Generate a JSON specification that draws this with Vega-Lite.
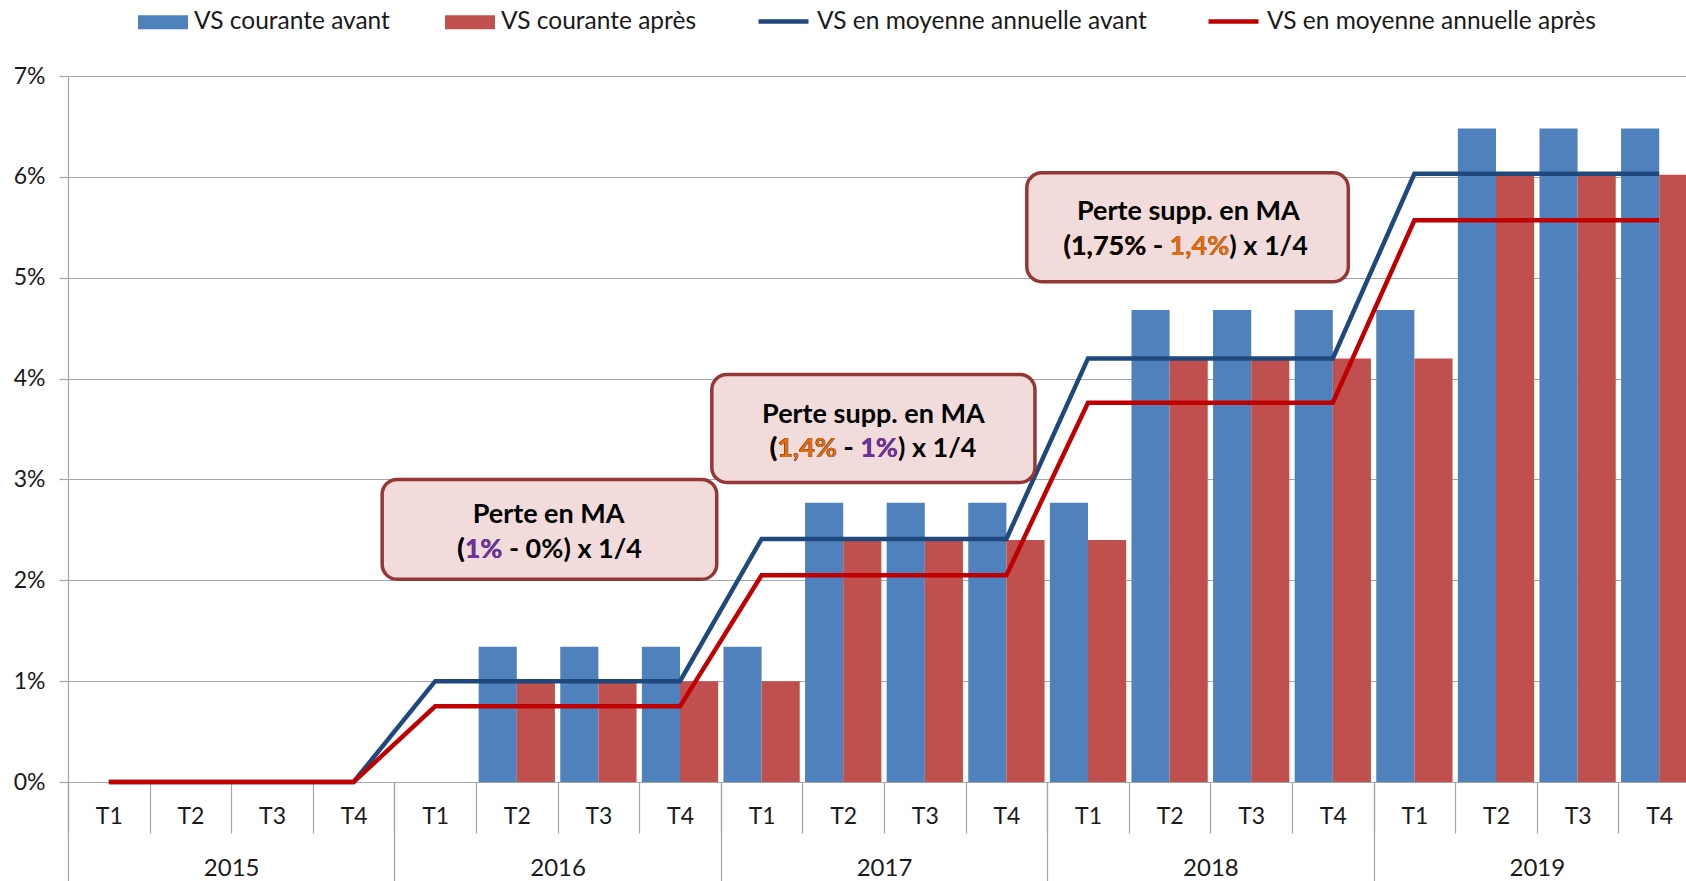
{
  "$schema": "https://vega.github.io/schema/vega-lite/v6.json",
  "width": 1618,
  "height": 706,
  "autosize": {"type": "none"},
  "padding": {"left": 68, "top": 76, "right": 0, "bottom": 99},
  "config": {
    "view": {"stroke": null},
    "font": "Lato",
    "axis": {"labelFont": "Lato", "labelColor": "#1A1A1A", "domainColor": "#A6A6A6", "tickColor": "#A6A6A6", "gridColor": "#A6A6A6", "domainWidth": 1.2, "tickWidth": 1.2, "gridWidth": 1.2},
    "legend": {"labelFont": "Lato", "labelColor": "#1A1A1A", "padding": 0, "labelLimit": 0}
  },
  "datasets": {
    "annees": [{"annee": "2015"}, {"annee": "2016"}, {"annee": "2017"}, {"annee": "2018"}, {"annee": "2019"}],
    "barres": [
      {"q": "2015-T1", "serie": "VS courante avant", "v": 0},
      {"q": "2015-T2", "serie": "VS courante avant", "v": 0},
      {"q": "2015-T3", "serie": "VS courante avant", "v": 0},
      {"q": "2015-T4", "serie": "VS courante avant", "v": 0},
      {"q": "2016-T1", "serie": "VS courante avant", "v": 0},
      {"q": "2016-T2", "serie": "VS courante avant", "v": 0.0134},
      {"q": "2016-T3", "serie": "VS courante avant", "v": 0.0134},
      {"q": "2016-T4", "serie": "VS courante avant", "v": 0.0134},
      {"q": "2017-T1", "serie": "VS courante avant", "v": 0.0134},
      {"q": "2017-T2", "serie": "VS courante avant", "v": 0.0277},
      {"q": "2017-T3", "serie": "VS courante avant", "v": 0.0277},
      {"q": "2017-T4", "serie": "VS courante avant", "v": 0.0277},
      {"q": "2018-T1", "serie": "VS courante avant", "v": 0.0277},
      {"q": "2018-T2", "serie": "VS courante avant", "v": 0.0468},
      {"q": "2018-T3", "serie": "VS courante avant", "v": 0.0468},
      {"q": "2018-T4", "serie": "VS courante avant", "v": 0.0468},
      {"q": "2019-T1", "serie": "VS courante avant", "v": 0.0468},
      {"q": "2019-T2", "serie": "VS courante avant", "v": 0.0648},
      {"q": "2019-T3", "serie": "VS courante avant", "v": 0.0648},
      {"q": "2019-T4", "serie": "VS courante avant", "v": 0.0648},
      {"q": "2015-T1", "serie": "VS courante après", "v": 0},
      {"q": "2015-T2", "serie": "VS courante après", "v": 0},
      {"q": "2015-T3", "serie": "VS courante après", "v": 0},
      {"q": "2015-T4", "serie": "VS courante après", "v": 0},
      {"q": "2016-T1", "serie": "VS courante après", "v": 0},
      {"q": "2016-T2", "serie": "VS courante après", "v": 0.01},
      {"q": "2016-T3", "serie": "VS courante après", "v": 0.01},
      {"q": "2016-T4", "serie": "VS courante après", "v": 0.01},
      {"q": "2017-T1", "serie": "VS courante après", "v": 0.01},
      {"q": "2017-T2", "serie": "VS courante après", "v": 0.024},
      {"q": "2017-T3", "serie": "VS courante après", "v": 0.024},
      {"q": "2017-T4", "serie": "VS courante après", "v": 0.024},
      {"q": "2018-T1", "serie": "VS courante après", "v": 0.024},
      {"q": "2018-T2", "serie": "VS courante après", "v": 0.042},
      {"q": "2018-T3", "serie": "VS courante après", "v": 0.042},
      {"q": "2018-T4", "serie": "VS courante après", "v": 0.042},
      {"q": "2019-T1", "serie": "VS courante après", "v": 0.042},
      {"q": "2019-T2", "serie": "VS courante après", "v": 0.0602},
      {"q": "2019-T3", "serie": "VS courante après", "v": 0.0602},
      {"q": "2019-T4", "serie": "VS courante après", "v": 0.0602}
    ],
    "lignes": [
      {"q": "2015-T1", "serie": "VS en moyenne annuelle avant", "v": 0},
      {"q": "2015-T2", "serie": "VS en moyenne annuelle avant", "v": 0},
      {"q": "2015-T3", "serie": "VS en moyenne annuelle avant", "v": 0},
      {"q": "2015-T4", "serie": "VS en moyenne annuelle avant", "v": 0},
      {"q": "2016-T1", "serie": "VS en moyenne annuelle avant", "v": 0.01},
      {"q": "2016-T2", "serie": "VS en moyenne annuelle avant", "v": 0.01},
      {"q": "2016-T3", "serie": "VS en moyenne annuelle avant", "v": 0.01},
      {"q": "2016-T4", "serie": "VS en moyenne annuelle avant", "v": 0.01},
      {"q": "2017-T1", "serie": "VS en moyenne annuelle avant", "v": 0.0241},
      {"q": "2017-T2", "serie": "VS en moyenne annuelle avant", "v": 0.0241},
      {"q": "2017-T3", "serie": "VS en moyenne annuelle avant", "v": 0.0241},
      {"q": "2017-T4", "serie": "VS en moyenne annuelle avant", "v": 0.0241},
      {"q": "2018-T1", "serie": "VS en moyenne annuelle avant", "v": 0.042},
      {"q": "2018-T2", "serie": "VS en moyenne annuelle avant", "v": 0.042},
      {"q": "2018-T3", "serie": "VS en moyenne annuelle avant", "v": 0.042},
      {"q": "2018-T4", "serie": "VS en moyenne annuelle avant", "v": 0.042},
      {"q": "2019-T1", "serie": "VS en moyenne annuelle avant", "v": 0.0603},
      {"q": "2019-T2", "serie": "VS en moyenne annuelle avant", "v": 0.0603},
      {"q": "2019-T3", "serie": "VS en moyenne annuelle avant", "v": 0.0603},
      {"q": "2019-T4", "serie": "VS en moyenne annuelle avant", "v": 0.0603},
      {"q": "2015-T1", "serie": "VS en moyenne annuelle après", "v": 0},
      {"q": "2015-T2", "serie": "VS en moyenne annuelle après", "v": 0},
      {"q": "2015-T3", "serie": "VS en moyenne annuelle après", "v": 0},
      {"q": "2015-T4", "serie": "VS en moyenne annuelle après", "v": 0},
      {"q": "2016-T1", "serie": "VS en moyenne annuelle après", "v": 0.0075},
      {"q": "2016-T2", "serie": "VS en moyenne annuelle après", "v": 0.0075},
      {"q": "2016-T3", "serie": "VS en moyenne annuelle après", "v": 0.0075},
      {"q": "2016-T4", "serie": "VS en moyenne annuelle après", "v": 0.0075},
      {"q": "2017-T1", "serie": "VS en moyenne annuelle après", "v": 0.0205},
      {"q": "2017-T2", "serie": "VS en moyenne annuelle après", "v": 0.0205},
      {"q": "2017-T3", "serie": "VS en moyenne annuelle après", "v": 0.0205},
      {"q": "2017-T4", "serie": "VS en moyenne annuelle après", "v": 0.0205},
      {"q": "2018-T1", "serie": "VS en moyenne annuelle après", "v": 0.0376},
      {"q": "2018-T2", "serie": "VS en moyenne annuelle après", "v": 0.0376},
      {"q": "2018-T3", "serie": "VS en moyenne annuelle après", "v": 0.0376},
      {"q": "2018-T4", "serie": "VS en moyenne annuelle après", "v": 0.0376},
      {"q": "2019-T1", "serie": "VS en moyenne annuelle après", "v": 0.0557},
      {"q": "2019-T2", "serie": "VS en moyenne annuelle après", "v": 0.0557},
      {"q": "2019-T3", "serie": "VS en moyenne annuelle après", "v": 0.0557},
      {"q": "2019-T4", "serie": "VS en moyenne annuelle après", "v": 0.0557}
    ],
    "cadres": [
      {"x1": 3.85, "x2": 7.95, "y1": 0.0300, "y2": 0.0201},
      {"x1": 7.89, "x2": 11.85, "y1": 0.0404, "y2": 0.0297},
      {"x1": 11.75, "x2": 15.69, "y1": 0.0604, "y2": 0.0496}
    ],
    "titres": [
      {"x": 5.89, "y": 0.0265, "t": "Perte en MA"},
      {"x": 9.87, "y": 0.0364, "t": "Perte supp. en MA"},
      {"x": 13.73, "y": 0.0565, "t": "Perte supp. en MA"}
    ],
    "formules": [
      {"x": 4.77, "y": 0.0230, "t": "(1% - 0%) x 1/4", "c": "noir"},
      {"x": 4.77, "y": 0.0230, "t": "(1%", "c": "violet"},
      {"x": 4.77, "y": 0.0230, "t": "(", "c": "noir"},
      {"x": 8.60, "y": 0.0330, "t": "(1,4% - 1%) x 1/4", "c": "noir"},
      {"x": 8.60, "y": 0.0330, "t": "(1,4% - 1%", "c": "violet"},
      {"x": 8.60, "y": 0.0330, "t": "(1,4% - ", "c": "noir"},
      {"x": 8.60, "y": 0.0330, "t": "(1,4%", "c": "orange"},
      {"x": 8.60, "y": 0.0330, "t": "(", "c": "noir"},
      {"x": 12.2, "y": 0.0530, "t": "(1,75% - 1,4%) x 1/4", "c": "noir"},
      {"x": 12.2, "y": 0.0530, "t": "(1,75% - 1,4%", "c": "orange"},
      {"x": 12.2, "y": 0.0530, "t": "(1,75% - ", "c": "noir"}
    ]
  },
  "layer": [
    {
      "data": {"name": "annees"},
      "mark": {"type": "rule", "opacity": 0},
      "encoding": {
        "x": {
          "field": "annee", "type": "ordinal",
          "scale": {"type": "band", "range": [0, 1632], "paddingInner": 0, "paddingOuter": 0},
          "axis": {"orient": "bottom", "title": null, "tickBand": "extent", "tickSize": 100, "labelPadding": -26, "domain": false, "grid": false, "labelAngle": 0, "labelFontSize": 24}
        }
      }
    },
    {
      "data": {"name": "barres"},
      "mark": {"type": "bar"},
      "encoding": {
        "x": {
          "field": "q", "type": "ordinal",
          "scale": {"type": "band", "range": [0, 1632], "paddingInner": 0, "paddingOuter": 0},
          "axis": {"orient": "bottom", "title": null, "tickBand": "extent", "tickSize": 51, "labelPadding": -28, "labelExpr": "split(datum.label, '-')[1]", "grid": false, "labelAngle": 0, "labelFontSize": 23}
        },
        "xOffset": {
          "field": "serie", "type": "nominal",
          "scale": {"domain": ["VS courante avant", "VS courante après"], "paddingInner": 0, "paddingOuter": 0.07}
        },
        "y": {
          "field": "v", "type": "quantitative", "title": null,
          "scale": {"domain": [0, 0.07], "nice": false, "zero": true},
          "axis": {"title": null, "format": ".0%", "values": [0, 0.01, 0.02, 0.03, 0.04, 0.05, 0.06, 0.07], "tickSize": 9, "labelPadding": 14, "grid": true, "labelFontSize": 23, "domain": true}
        },
        "fill": {
          "field": "serie", "type": "nominal",
          "scale": {"domain": ["VS courante avant", "VS courante après"], "range": ["#4F81BD", "#C0504D"]},
          "legend": {"orient": "none", "legendX": 70, "legendY": -79, "direction": "horizontal", "title": null, "symbolType": "M-1,-0.28H1V0.28H-1Z", "symbolSize": 2500, "symbolStrokeWidth": 0, "labelFontSize": 24.5, "labelOffset": 6, "columnPadding": 55}
        }
      }
    },
    {
      "data": {"name": "lignes"},
      "mark": {"type": "line", "strokeWidth": 4.5},
      "encoding": {
        "x": {
          "field": "q", "type": "ordinal",
          "scale": {"type": "point", "range": [0, 1632], "padding": 0.5},
          "axis": null
        },
        "y": {"field": "v", "type": "quantitative", "title": null, "scale": {"domain": [0, 0.07], "nice": false}},
        "stroke": {
          "field": "serie", "type": "nominal",
          "scale": {"domain": ["VS en moyenne annuelle avant", "VS en moyenne annuelle après"], "range": ["#1F497D", "#C00000"]},
          "legend": {"orient": "none", "legendX": 688, "legendY": -82, "direction": "horizontal", "title": null, "symbolType": "stroke", "symbolSize": 2500, "symbolStrokeWidth": 4.5, "labelFontSize": 24.5, "labelOffset": 6, "columnPadding": 52}
        }
      }
    },
    {
      "data": {"name": "cadres"},
      "mark": {"type": "rect", "cornerRadius": 15, "fill": "#F2DCDB", "stroke": "#953735", "strokeWidth": 3.5},
      "encoding": {
        "x": {"field": "x1", "type": "quantitative", "scale": {"domain": [0, 20], "range": [0, 1632], "nice": false, "zero": false}, "axis": null},
        "x2": {"field": "x2"},
        "y": {"field": "y1", "type": "quantitative", "title": null, "scale": {"domain": [0, 0.07], "nice": false}},
        "y2": {"field": "y2"}
      }
    },
    {
      "data": {"name": "titres"},
      "mark": {"type": "text", "font": "Lato", "fontWeight": "bold", "fontSize": 27, "align": "center", "baseline": "middle", "color": "#000000"},
      "encoding": {
        "x": {"field": "x", "type": "quantitative", "scale": {"domain": [0, 20], "range": [0, 1632], "nice": false, "zero": false}, "axis": null},
        "y": {"field": "y", "type": "quantitative", "title": null, "scale": {"domain": [0, 0.07], "nice": false}},
        "text": {"field": "t"}
      }
    },
    {
      "data": {"name": "formules"},
      "mark": {"type": "text", "font": "Lato", "fontWeight": "bold", "fontSize": 27, "align": "left", "baseline": "middle"},
      "encoding": {
        "x": {"field": "x", "type": "quantitative", "scale": {"domain": [0, 20], "range": [0, 1632], "nice": false, "zero": false}, "axis": null},
        "y": {"field": "y", "type": "quantitative", "title": null, "scale": {"domain": [0, 0.07], "nice": false}},
        "text": {"field": "t"},
        "color": {"field": "c", "type": "nominal", "scale": {"domain": ["noir", "violet", "orange"], "range": ["#000000", "#7030A0", "#E46C0A"]}, "legend": null}
      }
    }
  ],
  "resolve": {"scale": {"x": "independent"}, "axis": {"x": "independent"}}
}
